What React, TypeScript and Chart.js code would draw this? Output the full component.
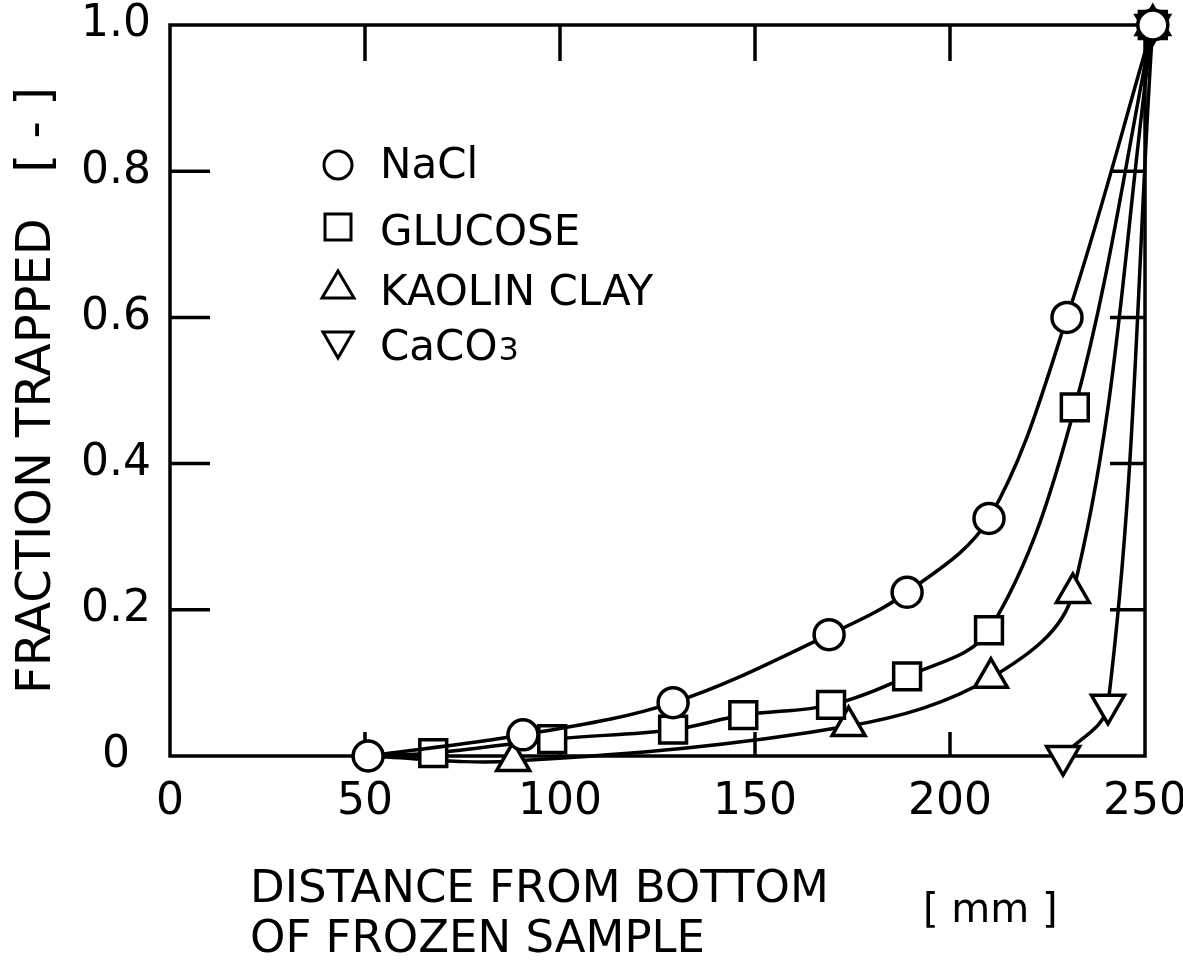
import React, { useEffect, useRef } from 'react';
import { Chart, registerables } from 'chart.js';

Chart.register(...registerables);

const FONT = '"DejaVu Sans", sans-serif';

// ---- axis ticks ----
const xTickValues = [0, 50, 100, 150, 200, 250];
const yTickValues = [0, 0.2, 0.4, 0.6, 0.8, 1.0];
const yTickLabels = ['0', '0.2', '0.4', '0.6', '0.8', '1.0'];
const xInnerTicks = [50, 100, 150, 200];
const yInnerTicks = [0.2, 0.4, 0.6, 0.8];

// ---- series (distance [mm], fraction trapped [-]) ----
const seriesNames = ['NaCl', 'GLUCOSE', 'KAOLIN CLAY', 'CaCO3'];

const naclX = [50.8, 90.5, 129, 169, 189, 210, 230, 252];
const naclY = [0, 0.029, 0.073, 0.166, 0.224, 0.325, 0.6, 1.0];
const naclMarker = [true, true, true, true, true, true, true, true];

const glucoseX = [50, 67.5, 98, 129, 147, 169.5, 189, 210, 232, 252];
const glucoseY = [0, 0.004, 0.023, 0.036, 0.056, 0.07, 0.109, 0.172, 0.477, 1.0];
const glucoseMarker = [false, true, true, true, true, true, true, true, true, true];

const kaolinX = [50, 88, 174, 210.5, 231.5, 252];
const kaolinY = [0, -0.007, 0.041, 0.107, 0.223, 1.0];
const kaolinMarker = [false, true, true, true, true, true];

const caco3X = [229, 240.5, 252];
const caco3Y = [0, 0.07, 1.0];
const caco3Marker = [true, true, true];

function makeSet(label, xs, ys, marks, style, radius, rotation) {
  return {
    label,
    data: xs.map((x, i) => ({ x, y: ys[i] })),
    borderColor: '#000',
    borderWidth: 3.5,
    backgroundColor: '#fff',
    pointBackgroundColor: '#fff',
    pointBorderColor: '#000',
    pointBorderWidth: 3.5,
    pointStyle: style,
    pointRotation: rotation,
    pointRadius: marks.map((m) => (m ? radius : 0)),
    pointHoverRadius: marks.map((m) => (m ? radius : 0)),
    tension: 0.35,
    fill: false,
    clip: false,
  };
}

const framePlugin = {
  id: 'frameTicks',
  beforeDatasetsDraw(chart) {
    const { ctx, chartArea, scales } = chart;
    const { left, right, top, bottom } = chartArea;
    ctx.save();
    ctx.strokeStyle = '#000';
    ctx.lineWidth = 3.5;
    ctx.strokeRect(left, top, right - left, bottom - top);
    ctx.beginPath();
    xInnerTicks.forEach((v) => {
      const px = scales.x.getPixelForValue(v);
      ctx.moveTo(px, top);
      ctx.lineTo(px, top + 36);
      ctx.moveTo(px, bottom);
      ctx.lineTo(px, bottom - 24);
    });
    yInnerTicks.forEach((v) => {
      const py = scales.y.getPixelForValue(v);
      ctx.moveTo(left, py);
      ctx.lineTo(left + 40, py);
      ctx.moveTo(right, py);
      ctx.lineTo(right - 35, py);
    });
    ctx.stroke();
    ctx.restore();
  },
};

function drawSymbol(ctx, kind, cx, cy) {
  ctx.beginPath();
  if (kind === 0) {
    ctx.arc(cx, cy, 14, 0, Math.PI * 2);
  } else if (kind === 1) {
    ctx.rect(cx - 13, cy - 13, 26, 26);
  } else if (kind === 2) {
    ctx.moveTo(cx, cy - 14);
    ctx.lineTo(cx + 16, cy + 13);
    ctx.lineTo(cx - 16, cy + 13);
    ctx.closePath();
  } else {
    ctx.moveTo(cx - 15, cy - 13);
    ctx.lineTo(cx + 15, cy - 13);
    ctx.lineTo(cx, cy + 13);
    ctx.closePath();
  }
  ctx.stroke();
}

const textPlugin = {
  id: 'texts',
  afterDraw(chart) {
    const { ctx, chartArea } = chart;
    const { left, bottom } = chartArea;
    ctx.save();
    ctx.fillStyle = '#000';
    ctx.strokeStyle = '#000';
    ctx.lineWidth = 3;
    ctx.textAlign = 'left';
    ctx.textBaseline = 'alphabetic';

    // legend inside plot
    const symX = left + 168;
    const txtX = left + 210;
    const rowsY = [165, 227, 285, 345];
    const baseY = [178, 245, 305, 360];
    ctx.font = `42px ${FONT}`;
    seriesNames.forEach((name, i) => {
      drawSymbol(ctx, i, symX, rowsY[i]);
      if (name === 'CaCO3') {
        ctx.font = `42px ${FONT}`;
        ctx.fillText('CaCO', txtX, baseY[i]);
        const w = ctx.measureText('CaCO').width;
        ctx.font = `32px ${FONT}`;
        ctx.fillText('3', txtX + w + 1, baseY[i]);
        ctx.font = `42px ${FONT}`;
      } else {
        ctx.fillText(name, txtX, baseY[i]);
      }
    });

    // x-axis title
    ctx.font = `45px ${FONT}`;
    ctx.fillText('DISTANCE FROM BOTTOM', left + 80, bottom + 146);
    ctx.fillText('OF FROZEN SAMPLE', left + 80, bottom + 196);
    ctx.font = `40px ${FONT}`;
    ctx.fillText('[ mm ]', left + 753, bottom + 166);
    ctx.restore();
  },
};

export default function App() {
  const canvasRef = useRef(null);

  useEffect(() => {
    const canvas = canvasRef.current;
    if (!canvas) return;
    const chart = new Chart(canvas, {
      type: 'line',
      data: {
        datasets: [
          makeSet(seriesNames[0], naclX, naclY, naclMarker, 'circle', 15, 0),
          makeSet(seriesNames[1], glucoseX, glucoseY, glucoseMarker, 'rect', 19, 0),
          makeSet(seriesNames[2], kaolinX, kaolinY, kaolinMarker, 'triangle', 19, 0),
          makeSet(seriesNames[3], caco3X, caco3Y, caco3Marker, 'triangle', 19, 180),
        ],
      },
      options: {
        responsive: false,
        animation: false,
        devicePixelRatio: 1,
        layout: { padding: { top: 25, right: 38, left: 0, bottom: 0 } },
        plugins: {
          legend: { display: false },
          tooltip: { enabled: false },
        },
        scales: {
          x: {
            type: 'linear',
            min: 0,
            max: 250,
            afterBuildTicks: (s) => {
              s.ticks = xTickValues.map((v) => ({ value: v }));
            },
            grid: { display: false, drawTicks: false },
            border: { display: false },
            ticks: {
              color: '#000',
              font: { family: FONT, size: 44 },
              padding: 20,
              maxRotation: 0,
              autoSkip: false,
            },
            afterFit: (s) => {
              s.height = 963 - 756;
              s.paddingLeft = 0;
              s.paddingRight = 0;
            },
          },
          y: {
            type: 'linear',
            min: 0,
            max: 1,
            afterBuildTicks: (s) => {
              s.ticks = yTickValues.map((v) => ({ value: v }));
            },
            grid: { display: false, drawTicks: false },
            border: { display: false },
            ticks: {
              color: '#000',
              font: { family: FONT, size: 44 },
              padding: 19,
              crossAlign: 'center',
              autoSkip: false,
              callback: (v, i) => yTickLabels[i],
            },
            title: {
              display: true,
              text: 'FRACTION TRAPPED   [ - ]',
              color: '#000',
              font: { family: FONT, size: 48 },
              padding: { top: 9, bottom: 0 },
            },
            afterFit: (s) => {
              s.width = 170;
              s.paddingTop = 0;
              s.paddingBottom = 0;
            },
          },
        },
      },
      plugins: [framePlugin, textPlugin],
    });
    return () => chart.destroy();
  }, []);

  return (
    <div style={{ position: 'absolute', left: 0, top: 0, width: 1183, height: 963, background: '#fff' }}>
      <canvas ref={canvasRef} width={1183} height={963} style={{ display: 'block' }} />
    </div>
  );
}
